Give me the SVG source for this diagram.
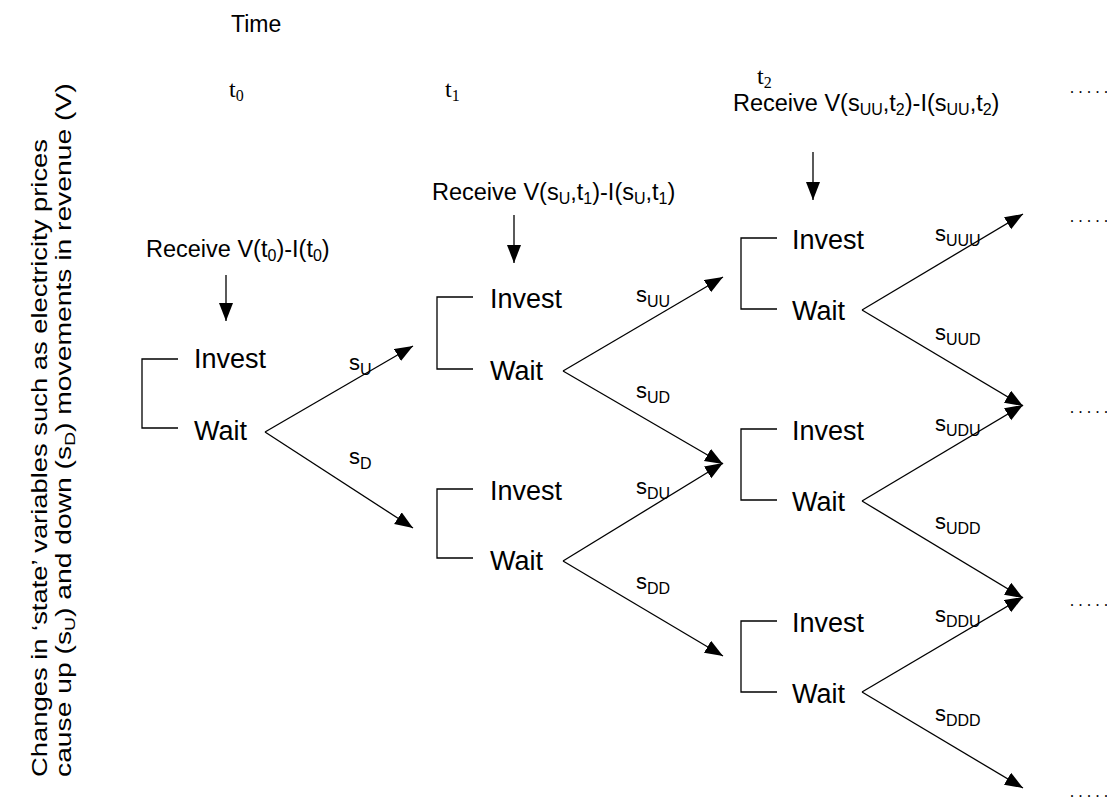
<svg xmlns="http://www.w3.org/2000/svg" width="1107" height="800" viewBox="0 0 1107 800">
  <style>
    .sans { font-family: "Liberation Sans", Arial, sans-serif; fill: #000; }
    .serif { font-family: "Liberation Serif", "Times New Roman", serif; fill: #000; }
    .choice { font-size: 27px; }
    .recv { font-size: 23.5px; }
    .lbl { font-size: 22px; }
    .sub { font-size: 16px; }
    .tsub { font-size: 16px; }
    .link { stroke: #000; stroke-width: 1.3; fill: none; marker-end: url(#head); }
    .bracket { stroke: #000; stroke-width: 1.3; fill: none; }
    .dots { font-family: "Liberation Serif", serif; font-size: 16px; letter-spacing: 4.5px; }
  </style>
  <defs>
    <marker id="head" markerUnits="userSpaceOnUse" markerWidth="20" markerHeight="16" refX="18" refY="7" orient="auto">
      <path d="M0,0 L18,7 L0,14 z" fill="#000"/>
    </marker>
  </defs>
  <rect width="1107" height="800" fill="#fff"/>

  <!-- axis captions -->
  <g id="time-axis">
    <text class="sans" x="231" y="32" font-size="23">Time</text>
    <text class="serif" x="229" y="97" font-size="24">t<tspan class="tsub" dy="4">0</tspan></text>
    <text class="serif" x="445" y="97" font-size="24">t<tspan class="tsub" dy="4">1</tspan></text>
    <text class="serif" x="757" y="84" font-size="24">t<tspan class="tsub" dy="4">2</tspan></text>
  </g>

  <g id="state-caption">
    <text class="sans" font-size="22" transform="translate(47,777) rotate(-90) scale(1.245,1)">Changes in ‘state’ variables such as electricity prices</text>
    <text class="sans" font-size="22" transform="translate(71,777) rotate(-90) scale(1.285,1)">cause up (s<tspan font-size="15" dy="4">U</tspan><tspan dy="-4">) and down (s</tspan><tspan font-size="15" dy="4">D</tspan><tspan dy="-4">) movements in revenue (V)</tspan></text>
  </g>

  <!-- payoff notes -->
  <g id="receive-t0">
    <text class="sans recv" x="146" y="257">Receive V(t<tspan class="sub" dy="4">0</tspan><tspan dy="-4">)-I(t</tspan><tspan class="sub" dy="4">0</tspan><tspan dy="-4">)</tspan></text>
    <line class="link" x1="226" y1="275" x2="226" y2="321"/>
  </g>
  <g id="receive-t1">
    <text class="sans recv" x="432" y="200">Receive V(s<tspan class="sub" dy="4">U</tspan><tspan dy="-4">,t</tspan><tspan class="sub" dy="4">1</tspan><tspan dy="-4">)-I(s</tspan><tspan class="sub" dy="4">U</tspan><tspan dy="-4">,t</tspan><tspan class="sub" dy="4">1</tspan><tspan dy="-4">)</tspan></text>
    <line class="link" x1="514" y1="215" x2="514" y2="263"/>
  </g>
  <g id="receive-t2">
    <text class="sans recv" x="733" y="111">Receive V(s<tspan class="sub" dy="4">UU</tspan><tspan dy="-4">,t</tspan><tspan class="sub" dy="4">2</tspan><tspan dy="-4">)-I(s</tspan><tspan class="sub" dy="4">UU</tspan><tspan dy="-4">,t</tspan><tspan class="sub" dy="4">2</tspan><tspan dy="-4">)</tspan></text>
    <line class="link" x1="813" y1="152" x2="813" y2="200"/>
  </g>

  <!-- decision nodes -->
  <g id="node-t0">
    <path class="bracket" d="M178,359 H142 V428 H178"/>
    <text class="sans choice" x="194" y="368">Invest</text>
    <text class="sans choice" x="194" y="440">Wait</text>
  </g>
  <g id="node-t1-up">
    <path class="bracket" d="M473,297 H437 V369 H473"/>
    <text class="sans choice" x="490" y="308">Invest</text>
    <text class="sans choice" x="490" y="380">Wait</text>
  </g>
  <g id="node-t1-down">
    <path class="bracket" d="M473,489 H437 V558 H473"/>
    <text class="sans choice" x="490" y="500">Invest</text>
    <text class="sans choice" x="490" y="570">Wait</text>
  </g>
  <g id="node-t2-uu">
    <path class="bracket" d="M777,238 H741 V309 H777"/>
    <text class="sans choice" x="792" y="249">Invest</text>
    <text class="sans choice" x="792" y="320">Wait</text>
  </g>
  <g id="node-t2-ud">
    <path class="bracket" d="M777,429 H741 V500 H777"/>
    <text class="sans choice" x="792" y="440">Invest</text>
    <text class="sans choice" x="792" y="511">Wait</text>
  </g>
  <g id="node-t2-dd">
    <path class="bracket" d="M777,621 H741 V692 H777"/>
    <text class="sans choice" x="792" y="632">Invest</text>
    <text class="sans choice" x="792" y="703">Wait</text>
  </g>

  <!-- continuation marks -->
  <g id="continuation">
    <text class="dots" x="1070" y="93">.....</text>
    <text class="dots" x="1070" y="222">.....</text>
    <text class="dots" x="1070" y="413">.....</text>
    <text class="dots" x="1070" y="606">.....</text>
    <text class="dots" x="1070" y="797">.....</text>
  </g>

  <!-- state transitions -->
  <g id="connectors">
    <line class="link" x1="265" y1="432" x2="413" y2="346"/>
    <line class="link" x1="265" y1="432" x2="413" y2="528"/>
    <line class="link" x1="563" y1="371" x2="723" y2="277"/>
    <line class="link" x1="563" y1="371" x2="723" y2="464"/>
    <line class="link" x1="563" y1="561" x2="723" y2="463"/>
    <line class="link" x1="563" y1="561" x2="723" y2="656"/>
    <line class="link" x1="862" y1="310" x2="1023" y2="214"/>
    <line class="link" x1="862" y1="310" x2="1023" y2="406"/>
    <line class="link" x1="862" y1="501" x2="1023" y2="405"/>
    <line class="link" x1="862" y1="501" x2="1023" y2="598"/>
    <line class="link" x1="862" y1="692" x2="1023" y2="597"/>
    <line class="link" x1="862" y1="692" x2="1023" y2="788"/>
  </g>

  <!-- transition labels -->
  <g id="transition-labels">
    <text class="sans lbl" x="349" y="370">s<tspan class="sub" dy="5">U</tspan></text>
    <text class="sans lbl" x="349" y="464">s<tspan class="sub" dy="5">D</tspan></text>
    <text class="sans lbl" x="636" y="302">s<tspan class="sub" dy="5">UU</tspan></text>
    <text class="sans lbl" x="636" y="398">s<tspan class="sub" dy="5">UD</tspan></text>
    <text class="sans lbl" x="636" y="494">s<tspan class="sub" dy="5">DU</tspan></text>
    <text class="sans lbl" x="636" y="589">s<tspan class="sub" dy="5">DD</tspan></text>
    <text class="sans lbl" x="935" y="241">s<tspan class="sub" dy="5">UUU</tspan></text>
    <text class="sans lbl" x="935" y="340">s<tspan class="sub" dy="5">UUD</tspan></text>
    <text class="sans lbl" x="935" y="431">s<tspan class="sub" dy="5">UDU</tspan></text>
    <text class="sans lbl" x="935" y="529">s<tspan class="sub" dy="5">UDD</tspan></text>
    <text class="sans lbl" x="935" y="622">s<tspan class="sub" dy="5">DDU</tspan></text>
    <text class="sans lbl" x="935" y="721">s<tspan class="sub" dy="5">DDD</tspan></text>
  </g>
</svg>
